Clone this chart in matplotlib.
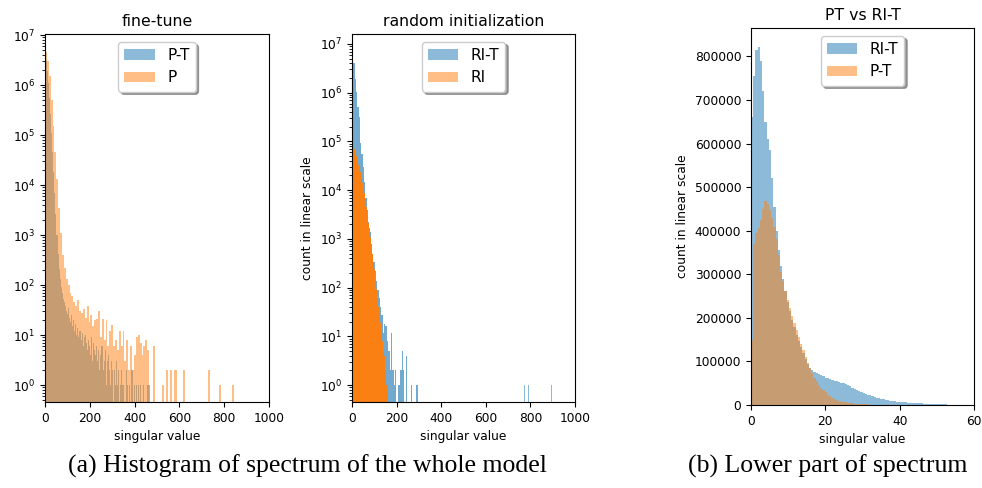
import numpy as np
import matplotlib
matplotlib.use("Agg")
import matplotlib.pyplot as plt

# ---- data: histogram counts (bins start at 0) ----
# (a) fine-tune: P (pretrained) and P-T (pretrained then fine-tuned)
p_bin = 8.45
p_counts = [
    4.6e6, 3.0e6, 1.5e6, 5.0e5, 1.5e5, 4.5e4, 1.3e4, 3.5e3, 1.1e3, 400,
    220, 130, 100, 70, 60, 45, 38, 50, 30, 28,
    34, 22, 38, 18, 25, 15, 20, 21, 30, 9,
    21, 8, 20, 6, 12, 16, 6, 8, 5, 12,
    6, 12, 3, 8, 2, 6, 2, 4, 9, 10,
    7, 4, 6, 8, 5, 0, 0, 6, 0, 0,
    0, 0, 1, 0, 2, 0, 2, 0, 2, 2,
    0, 0, 0, 2, 0, 0, 0, 0, 0, 0,
    0, 0, 0, 0, 0, 0, 2, 0, 0, 0,
    0, 0, 1, 0, 0, 0, 0, 0, 0, 1,
]
pt_bin = 4.67
pt_counts = [
    4.4e6, 3.0e6, 1.9e6, 1.1e6, 5.5e5, 2.6e5, 1.1e5, 4.5e4, 1.8e4, 7e3,
    2.6e3, 1.0e3, 420, 210, 130, 90, 70, 52, 45, 38,
    30, 26, 35, 22, 18, 25, 15, 20, 12, 17,
    10, 14, 9, 12, 8, 11, 6, 9, 10, 7,
    5, 8, 6, 4, 9, 3, 7, 5, 4, 6,
    3, 5, 2, 4, 6, 2, 3, 5, 1, 3,
    4, 2, 1, 3, 2, 0, 2, 1, 3, 1,
    2, 0, 1, 2, 1, 1, 0, 2, 1, 0,
    1, 0, 2, 2, 0, 1, 0, 1, 0, 1,
    0, 1, 0, 0, 1, 0, 0, 0, 1, 1,
]

# (a) random initialization: RI and RI-T
ri_bin = 1.6
ri_counts = [
    97000, 93000, 88000, 83000, 78000, 74000, 70000, 66000, 62500, 59000,
    56000, 53000, 50000, 47000, 44000, 41000, 38500, 36000, 33500, 31500,
    29500, 27500, 25500, 23500, 22000, 20000, 18500, 17000, 15500, 14200,
    13000, 11800, 10800, 9800, 8900, 8000, 7100, 6400, 5700, 5100,
    4500, 4000, 3500, 3100, 2750, 2400, 2150, 1900, 1650, 1450,
    1280, 1120, 990, 870, 760, 660, 570, 500, 430, 370,
    320, 280, 240, 205, 175, 150, 128, 110, 95, 82,
    70, 61, 53, 46, 40, 35, 30, 26, 22, 19,
    17, 15, 13, 11, 9, 8, 7, 6, 5, 4,
    4, 3, 3, 2, 2, 1, 1, 1, 0, 1,
]
rit_bin = 6.0
rit_counts = [
    7.0e6, 4.0e6, 1.9e6, 1.05e6, 5.0e5, 3.2e5, 9.5e4, 5.5e4, 3.0e4, 1.5e4,
    7000, 4000, 2200, 1400, 800, 500, 330, 220, 140, 90,
    60, 40, 28, 12, 18, 16, 8, 5, 2, 12,
    2, 1, 2, 0, 1, 1, 2, 5, 2, 0,
    4, 0, 0, 0, 1, 0, 0, 0, 1,
]
rit_outliers = [771, 789, 891]
rit_outlier_counts = [1, 1, 1]

# (b) lower part of spectrum: RI-T vs P-T, bins of 0.6 on [0, 60]
low_bin = 0.6
low_rit = [
    660000, 755000, 815000, 822000, 790000, 720000, 650000, 610000, 585000, 520000,
    455000, 400000, 355000, 318000, 288000, 262000, 237000, 215000, 195000, 178000,
    160000, 146000, 132000, 119000, 106000, 94000, 86000, 80000, 76000, 74000,
    72000, 69000, 66000, 63000, 61000, 59000, 57500, 56000, 54500, 53000,
    51500, 50000, 48000, 46000, 43000, 40000, 37500, 35000, 32500, 30000,
    28000, 26000, 24000, 22000, 20000, 18500, 17000, 15500, 14200, 13000,
    12000, 11000, 10200, 9400, 8700, 8000, 7500, 7000, 6500, 6000,
    5600, 5200, 4800, 4500, 4200, 3900, 3600, 3300, 3000, 2800,
    2600, 2400, 2200, 2000, 1800, 1600, 1400, 1250, 1100, 950,
    800, 700, 600, 500, 420, 350, 300, 250, 200, 160,
]
low_pt = [
    150000, 370000, 395000, 405000, 425000, 450000, 468000, 462000, 448000, 430000,
    408000, 382000, 345000, 305000, 285000, 262000, 240000, 222000, 205000, 188000,
    172000, 156000, 141000, 126000, 111000, 97000, 84000, 73000, 63000, 54000,
    46000, 39000, 34000, 29000, 24000, 20000, 17000, 14500, 12000, 10000,
    8500, 7000, 6000, 5000, 4200, 3600, 3100, 2700, 2300, 2000,
    1700, 1450, 1250, 1050, 900, 780, 660, 560, 480, 400,
    340, 290, 240, 200, 170, 140, 120, 100, 80, 65,
    50, 40, 32, 25, 20, 16, 12, 10, 8, 6,
    5, 4, 3, 3, 2, 2, 1, 1, 1, 1,
    0, 0, 0, 0, 0, 0, 0, 0, 0, 0,
]

BLUE = "#1f77b4"
ORANGE = "#ff7f0e"


def hist_bars(ax, counts, bw, color, label, log=False, alpha=0.5):
    left = np.arange(len(counts)) * bw
    ax.bar(left, counts, width=bw, align="edge", color=color, alpha=alpha,
           linewidth=0, label=label, log=log)


fig = plt.figure(figsize=(9.82, 4.88), dpi=100)
ax1 = fig.add_axes([0.0458, 0.1762, 0.2281, 0.7541])
ax2 = fig.add_axes([0.3585, 0.1762, 0.2271, 0.7541])
ax3 = fig.add_axes([0.7648, 0.1701, 0.2271, 0.7725])

# fine-tune
hist_bars(ax1, pt_counts, pt_bin, BLUE, "P-T", log=True)
hist_bars(ax1, p_counts, p_bin, ORANGE, "P", log=True)
ax1.set_ylim(0.46, 1.05e7)
ax1.set_title("fine-tune", fontsize=11.3)

# random initialization (the thin RI bars pile up into a solid fill)
hist_bars(ax2, rit_counts, rit_bin, BLUE, "RI-T", log=True)
hist_bars(ax2, rit_counts, rit_bin, BLUE, None, log=True, alpha=0.25)
ax2.bar(rit_outliers, rit_outlier_counts, width=rit_bin, align="edge",
        color=BLUE, alpha=0.5, linewidth=0, log=True)
hist_bars(ax2, ri_counts, ri_bin, ORANGE, "RI", log=True)
hist_bars(ax2, ri_counts, ri_bin, ORANGE, None, log=True, alpha=0.95)
ax2.set_ylim(0.45, 1.6e7)
ax2.set_title("random initialization", fontsize=11.3)
ax2.set_ylabel("count in linear scale", fontsize=8.8)

for ax in (ax1, ax2):
    ax.set_xlim(0, 1000)
    ax.set_xticks([0, 200, 400, 600, 800, 1000])

# lower part of spectrum
hist_bars(ax3, low_rit, low_bin, BLUE, "RI-T")
hist_bars(ax3, low_pt, low_bin, ORANGE, "P-T")
ax3.set_xlim(0, 60)
ax3.set_ylim(0, 865000)
ax3.set_xticks([0, 20, 40, 60])
ax3.set_title("PT vs RI-T", fontsize=11.3)
ax3.set_ylabel("count in linear scale", fontsize=8.8)

for ax in (ax1, ax2, ax3):
    ax.set_xlabel("singular value", fontsize=8.8)
    ax.tick_params(labelsize=8.8)
    ax.legend(loc="upper center", shadow=True, fontsize=11)

fig.text(0.3135, 0.045, "(a) Histogram of spectrum of the whole model",
         ha="center", va="center", family="Liberation Serif", fontsize=18.5)
fig.text(0.8432, 0.045, "(b) Lower part of spectrum",
         ha="center", va="center", family="Liberation Serif", fontsize=18.5)

fig.savefig("out.png", dpi=100)
plt.close(fig)
